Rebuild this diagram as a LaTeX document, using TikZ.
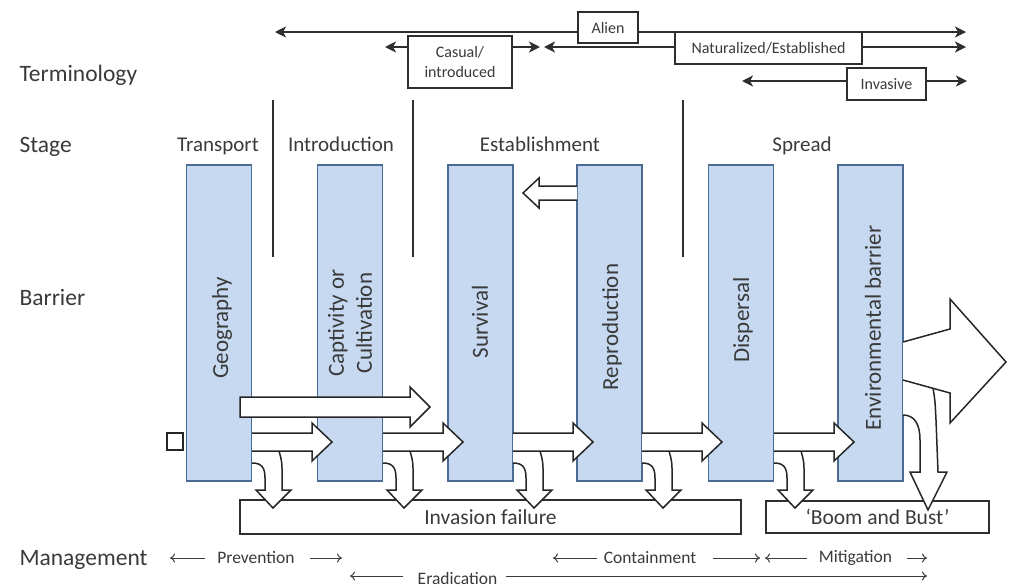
\documentclass[tikz,border=0pt]{standalone}
\usepackage{fontspec}
\setmainfont{Carlito}
\usetikzlibrary{arrows.meta,calc}
\definecolor{barfill}{HTML}{C6D9F1}
\definecolor{barline}{HTML}{4A6B93}
\definecolor{txt}{HTML}{3A3A3A}
\definecolor{ln}{HTML}{2E2E2E}
\begin{document}
\begin{tikzpicture}[x=1pt,y=-1pt,
  bar/.style={draw=barline, fill=barfill, line width=1.3pt, minimum width=65pt, minimum height=316pt, inner sep=0pt},
  barlbl/.style={text=txt, rotate=90, align=center, font=\fontsize{23}{28}\selectfont},
  sidelbl/.style={text=txt, anchor=base west, font=\fontsize{23.5}{28}\selectfont},
  stagelbl/.style={text=txt, anchor=base, font=\fontsize{21}{24}\selectfont},
  termbox/.style={draw=ln, fill=white, line width=1.3pt, inner sep=0pt, text=txt, align=center, font=\fontsize{16}{20}\selectfont},
  bigbox/.style={draw=ln, line width=1.6pt, inner sep=0pt, text=txt, font=\fontsize{21.5}{24}\selectfont},
  mgmt/.style={text=txt, font=\fontsize{17.5}{20}\selectfont},
  termarrow/.style={draw=ln, line width=1.8pt, -{Stealth[length=11pt,width=11pt,inset=3pt]}},
  termboth/.style={draw=ln, line width=1.8pt, {Stealth[length=11pt,width=11pt,inset=3pt]}-{Stealth[length=11pt,width=11pt,inset=3pt]}},
  mgarrow/.style={draw=txt, line width=1pt, -{To[length=5pt,width=9pt]}},
  divider/.style={draw=ln, line width=1.5pt},
  hollow/.style={draw=black!85, fill=white, line width=1.5pt, line join=miter},
  hollowline/.style={draw=black!85, line width=1.5pt, line join=miter}
]
\useasboundingbox (0,0) rectangle (1009,587);

% side labels
\node[sidelbl] (tTerm) at (16,81) {Terminology};
\node[sidelbl] (tStage) at (16,152.5) {Stage};
\node[sidelbl] (tBarrier) at (16,305.5) {Barrier};
\node[sidelbl] (tMgmt) at (16,565.5) {Management};

% terminology
\coordinate (aL) at (275,32);
\coordinate (aR) at (966,32);
\draw[termboth] (aL) -- (aR);
\node[termbox, minimum width=60pt, minimum height=31pt] (alien) at (608,27.5) {Alien};
\node[termbox, minimum width=187pt, minimum height=32pt] (nat) at (768.5,48) {Naturalized/Established};
\node[termbox, minimum width=104pt, minimum height=52pt] (cas) at (460,62) {Casual/\\introduced};
\node[termbox, minimum width=79pt, minimum height=32pt] (inv) at (886.5,84) {Invasive};
\coordinate (natL) at (544,47);
\coordinate (natR) at (966,47);
\coordinate (casL) at (385,47);
\coordinate (casR) at (540,47);
\coordinate (invL) at (742,81);
\coordinate (invR) at (967,81);
\draw[termarrow] (nat.west |- natL) -- (natL);
\draw[termarrow] (nat.east |- natR) -- (natR);
\draw[termarrow] (cas.west |- casL) -- (casL);
\draw[termarrow] (cas.east |- casR) -- (casR);
\draw[termarrow] (inv.west |- invL) -- (invL);
\draw[termarrow] (inv.east |- invR) -- (invR);

% dividers
\foreach \x/\n in {273/d1,413/d2,683/d3} {
  \coordinate (\n t) at (\x,100);
  \coordinate (\n b) at (\x,257);
  \draw[divider] (\n t) -- (\n b);
}

% stage labels
\node[stagelbl] (sTransport) at (218,151) {Transport};
\node[stagelbl] (sIntro) at (341,151) {Introduction};
\node[stagelbl] (sEstab) at (540,151) {Establishment};
\node[stagelbl] (sSpread) at (802,151) {Spread};

% bars
\node[bar] (b1) at (219,323) {};
\node[bar] (b2) at (350,323) {};
\node[bar] (b3) at (480.5,323) {};
\node[bar] (b4) at (609.5,323) {};
\node[bar] (b5) at (741,323) {};
\node[bar] (b6) at (870.5,323) {};
\node[barlbl] (l1) at (222,328) {Geography};
\node[barlbl] (l2) at (350,323) {Captivity or\\Cultivation};
\node[barlbl] (l3) at (480,322) {Survival};
\node[barlbl] (l4) at (612,327) {Reproduction};
\node[barlbl] (l5) at (743,320) {Dispersal};
\node[barlbl] (l6) at (873,328) {Environmental barrier};

% outcome boxes
\node[bigbox, minimum width=501pt, minimum height=34pt] (fail) at (490.5,517) {Invasion failure};
\node[bigbox, minimum width=223pt, minimum height=32pt] (boom) at (877.5,517) {‘Boom and Bust’};

% small square
\node[draw=black!85, fill=white, line width=1.5pt, minimum width=16pt, minimum height=17pt, inner sep=0pt] (sq) at (175,441.5) {};

% back arrow from reproduction
\draw[hollow] (577,186) -- (539,186) -- (539,178) -- (523,193) -- (539,208) -- (539,200) -- (577,200);

% long arrow
\draw[hollow] (240,397) -- (410,397) -- (410,387) -- (430,407) -- (410,427) -- (410,417) -- (240,417) -- cycle;

% short arrows with down arrows
\foreach \R in {252,383,513,642,774} {
  \fill[white] (\R,451) -- (\R,463) .. controls (\R+10,463) and (\R+13,468) .. (\R+13,478) -- (\R+13,490) -- (\R+4,490) -- (\R+21,508) -- (\R+39,490) -- (\R+30,490) -- (\R+30,468) .. controls (\R+30,460) and (\R+28,455) .. (\R+27,451) -- cycle;
  \draw[hollowline] (\R,463) .. controls (\R+10,463) and (\R+13,468) .. (\R+13,478) -- (\R+13,490) -- (\R+4,490) -- (\R+21,508) -- (\R+39,490) -- (\R+30,490) -- (\R+30,468) .. controls (\R+30,460) and (\R+28,455) .. (\R+27,451);
  \draw[hollow] (\R,433) -- (\R+60,433) -- (\R+60,423) -- (\R+80,442) -- (\R+60,461) -- (\R+60,451) -- (\R,451);
}

% environmental barrier arrows
\fill[white] (903,381) -- (903,415) .. controls (915,415) and (920,425) .. (920,440) -- (920,472) -- (910,472) -- (928,510) -- (947,472) -- (938,472) -- (936,420) .. controls (935,400) .. (933,388) -- cycle;
\draw[hollowline] (903,415) .. controls (915,415) and (920,425) .. (920,440) -- (920,472) -- (910,472) -- (928,510) -- (947,472) -- (938,472) -- (936,420) .. controls (935,400) .. (933,388);
\draw[hollow] (903,342) -- (950,329) -- (950,299) -- (1006,362) -- (950,423) -- (950,393) -- (903,380);

% management
\node[mgmt] (prev) at (256,558) {Prevention};
\node[mgmt] (erad) at (457.5,578) {Eradication};
\node[mgmt] (cont) at (650,558) {Containment};
\node[mgmt] (miti) at (855.5,558) {Mitigation};
\coordinate (p1s) at (205,558); \coordinate (p1e) at (170,558);
\coordinate (p2s) at (310,558); \coordinate (p2e) at (342,558);
\coordinate (e1s) at (403,576); \coordinate (e1e) at (350,576);
\coordinate (e2s) at (506,576); \coordinate (e2e) at (927,576);
\coordinate (c1s) at (597,558); \coordinate (c1e) at (553,558);
\coordinate (c2s) at (713,558); \coordinate (c2e) at (760,558);
\coordinate (m1s) at (807,558); \coordinate (m1e) at (765,558);
\coordinate (m2s) at (907,558); \coordinate (m2e) at (927,558);
\foreach \a in {p1,p2,e1,e2,c1,c2,m1,m2} {
  \draw[mgarrow] (\a s) -- (\a e);
}
\end{tikzpicture}
\end{document}
